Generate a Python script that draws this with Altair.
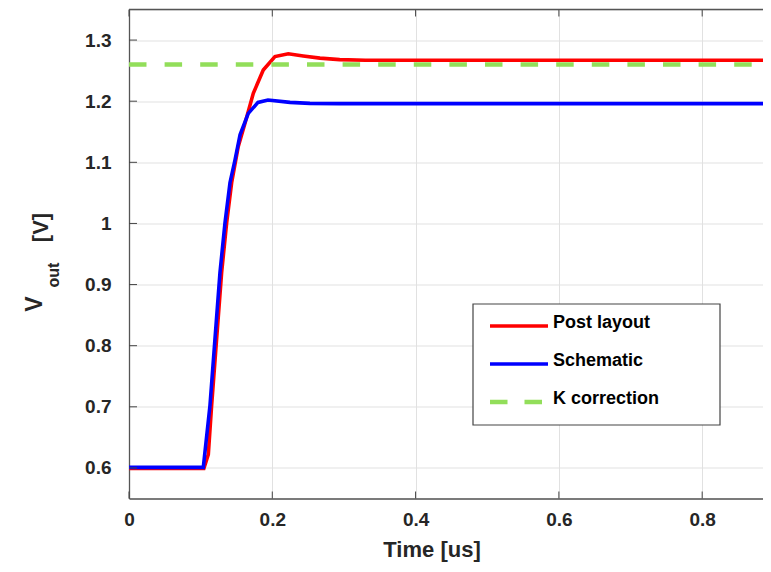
import altair as alt
import pandas as pd

# ---- data ----
post_t = [0, 0.1045, 0.1107, 0.1153, 0.1223, 0.1293, 0.1363, 0.1433, 0.1525, 0.1619,
          0.1735, 0.1874, 0.2037, 0.2223, 0.2432, 0.2665, 0.294, 0.33, 0.886]
post_v = [0.599, 0.599, 0.622, 0.702, 0.811, 0.92, 1.001, 1.067, 1.126, 1.164,
          1.213, 1.251, 1.273, 1.2775, 1.274, 1.2705, 1.268, 1.267, 1.267]

sch_t = [0, 0.1037, 0.113, 0.120, 0.127, 0.134, 0.141, 0.148, 0.155, 0.1665,
         0.180, 0.194, 0.2247, 0.2525, 0.294, 0.9]
sch_v = [0.601, 0.601, 0.702, 0.811, 0.92, 1.001, 1.067, 1.104, 1.145, 1.18,
         1.198, 1.202, 1.198, 1.1965, 1.196, 1.196]

k_t = [0, 0.9]
k_v = [1.26, 1.26]

x_ticks = [0, 0.2, 0.4, 0.6, 0.8]
y_ticks = [0.6, 0.7, 0.8, 0.9, 1.0, 1.1, 1.2, 1.3]

series_names = ["Post layout", "Schematic", "K correction"]
series_colors = ["#ff0000", "#0000ff", "#92de5a"]

# ---- styling ----
FONT = "Liberation Sans"
TXT = "#262626"
W, H = 634, 489

xs = alt.Scale(domain=[0, 0.8849], nice=False, zero=False)
ys = alt.Scale(domain=[0.55, 1.35], nice=False, zero=False)

xaxis = alt.Axis(values=x_ticks, format="~g", grid=True, gridColor="#e1e1e1", gridWidth=1,
                 ticks=False, domainColor="#555555", domainWidth=1.3, labelFont=FONT,
                 labelFontSize=19, labelFontWeight="bold", labelColor=TXT, labelPadding=12,
                 labelFlush=False, title=None)
yaxis = alt.Axis(values=y_ticks, format="~g", grid=True, gridColor="#e1e1e1", gridWidth=1,
                 ticks=False, domainColor="#555555", domainWidth=1.3, labelFont=FONT,
                 labelFontSize=19, labelFontWeight="bold", labelColor=TXT, labelPadding=18,
                 labelFlush=False, title=None)

post_df = pd.DataFrame({"t": post_t, "v": post_v})
sch_df = pd.DataFrame({"t": sch_t, "v": sch_v})
k_df = pd.DataFrame({"t": k_t, "v": k_v})
xt_df = pd.DataFrame({"t": x_ticks})
yt_df = pd.DataFrame({"v": y_ticks})
one = pd.DataFrame({"a": [0]})


def enc_xy(ch):
    return ch.encode(x=alt.X("t:Q", scale=xs, axis=xaxis), y=alt.Y("v:Q", scale=ys, axis=yaxis))


post = enc_xy(alt.Chart(post_df).mark_line(color=series_colors[0], strokeWidth=3.6, clip=True))
sch = enc_xy(alt.Chart(sch_df).mark_line(color=series_colors[1], strokeWidth=3.6, clip=True))
kline = enc_xy(alt.Chart(k_df).mark_line(color=series_colors[2], strokeWidth=4.5,
                                         strokeDash=[17.5, 18.1], clip=True))

tick_col = "#444444"
bt = alt.Chart(xt_df).mark_rule(color=tick_col, strokeWidth=1).encode(
    x=alt.X("t:Q", scale=xs, axis=xaxis), y=alt.value(H), y2=alt.value(H - 7))
tt = alt.Chart(xt_df).mark_rule(color=tick_col, strokeWidth=1).encode(
    x=alt.X("t:Q", scale=xs, axis=xaxis), y=alt.value(0), y2=alt.value(7))
lt = alt.Chart(yt_df).mark_rule(color=tick_col, strokeWidth=1).encode(
    y=alt.Y("v:Q", scale=ys, axis=yaxis), x=alt.value(0), x2=alt.value(8))
top_border = alt.Chart(one).mark_rule(color="#555555", strokeWidth=1.3).encode(
    x=alt.value(0), x2=alt.value(W), y=alt.value(0))

# legend box
lg_box = alt.Chart(one).mark_rect(fill="white", stroke="#444444", strokeWidth=1.2).encode(
    x=alt.value(344), x2=alt.value(591), y=alt.value(294.5), y2=alt.value(415.5))
lg_layers = []
line_ys = [316.5, 354.5, 392.5]
text_ys = [318, 356.5, 394.5]
for i, name in enumerate(series_names):
    kw = dict(color=series_colors[i], strokeWidth=3.6 if i < 2 else 4.5)
    if i == 2:
        kw["strokeDash"] = [17.5, 17]
    lg_layers.append(alt.Chart(one).mark_rule(**kw).encode(
        x=alt.value(361), x2=alt.value(419), y=alt.value(line_ys[i])))
    lg_layers.append(alt.Chart(one).mark_text(
        text=name, font=FONT, fontSize=18, fontWeight="bold", color="black",
        align="left", baseline="alphabetic").encode(x=alt.value(424), y=alt.value(text_ys[i])))


# axis titles
def txt(s, x, y, size, angle=0, baseline="middle"):
    return alt.Chart(one).mark_text(text=s, font=FONT, fontSize=size, fontWeight="bold",
                                    color=TXT, align="center", baseline=baseline,
                                    angle=angle).encode(x=alt.value(x), y=alt.value(y))


xtitle = txt("Time [us]", 303, 547.5, 22, baseline="alphabetic")
yt_v = txt("V", -94, 294.5, 23, angle=270)
yt_out = txt("out", -75, 265.5, 16, angle=270)
yt_unit = txt("[V]", -88, 218, 22, angle=270)

chart = alt.layer(
    post, sch, kline, bt, tt, lt, top_border, lg_box, *lg_layers,
    xtitle, yt_v, yt_out, yt_unit
).properties(
    width=W, height=H,
    autosize=alt.AutoSizeParams(type="none"),
    padding={"left": 121, "top": 1.5, "right": 0, "bottom": 65.5},
).configure_view(stroke=None).configure(background="white")

chart.save("out.html", embed_options={"renderer": "svg", "actions": False})
